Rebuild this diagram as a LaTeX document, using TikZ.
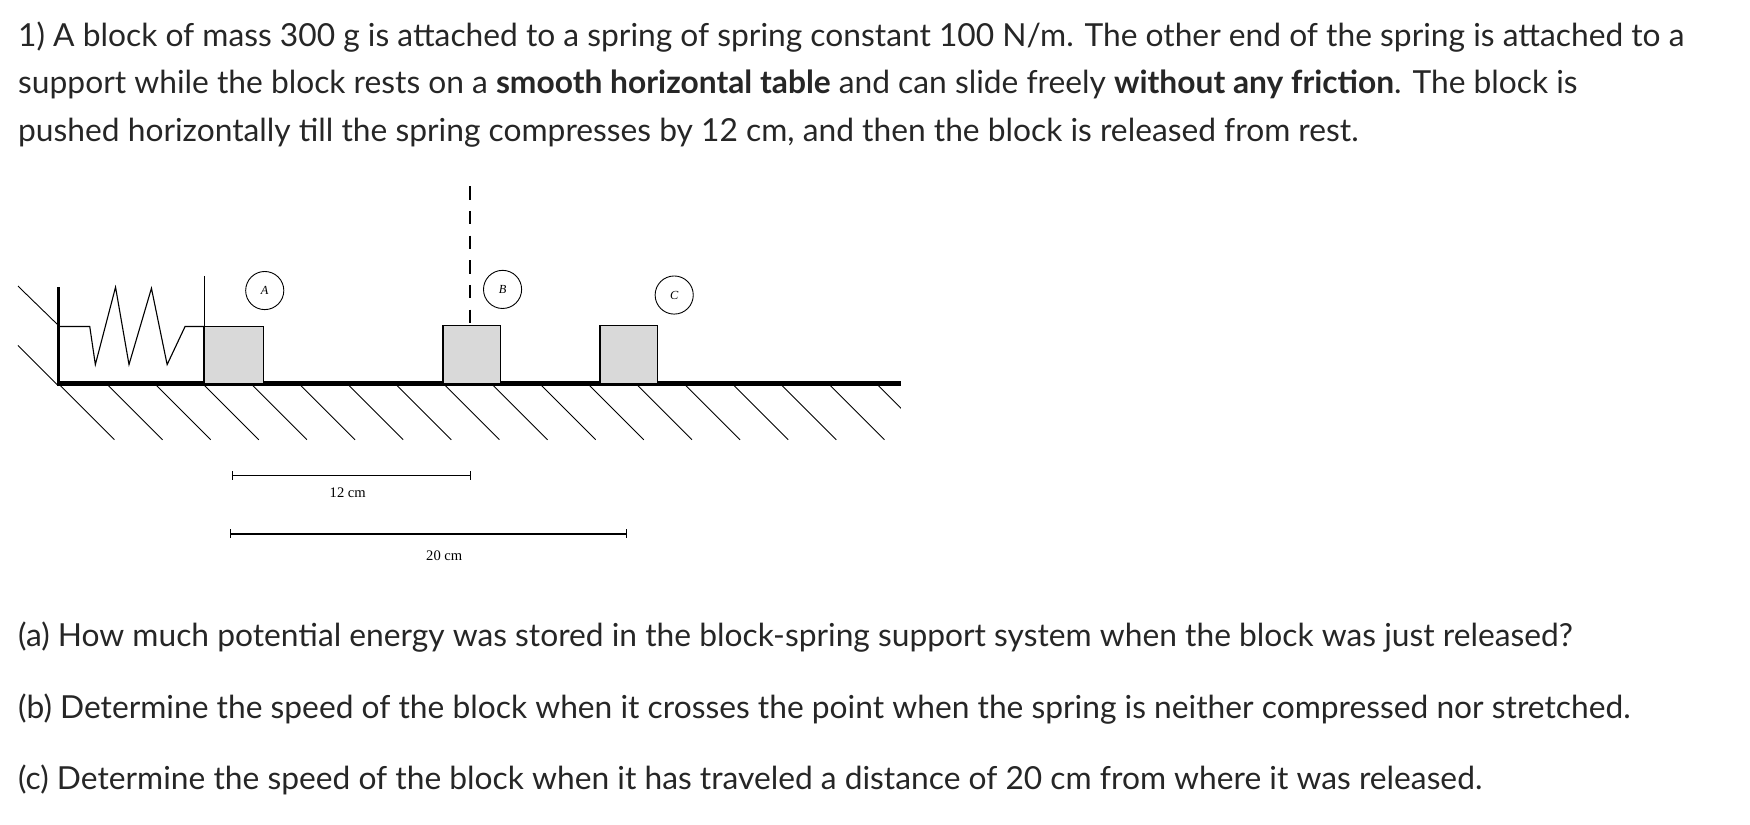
\documentclass[tikz,border=0pt]{standalone}
\usepackage{fontspec}
\setmainfont{Lato}
\newfontfamily\timesf{Liberation Serif}
\begin{document}
\begin{tikzpicture}[x=1pt,y=-1pt,
  txt/.style={anchor=west,inner sep=0pt,font=\fontsize{28.3}{32}\selectfont,text=black!85},
  blk/.style={draw,fill=black!15,line width=1.2pt},
  lbl/.style={draw,circle,line width=0.8pt,minimum size=34pt,inner sep=0pt,font=\timesf\itshape\fontsize{11}{12}\selectfont},
  dim/.style={line width=1pt,|-|},
  dimtxt/.style={font=\timesf\fontsize{13}{15}\selectfont,inner sep=0pt}]
\useasboundingbox (0,0) rectangle (1560,735);
\node[txt] (l1) at (16,33) {1) A block of mass 300 g is attached to a spring of spring constant 100 N/m. The other end of the spring is attached to a};
\node[txt] (l2) at (16,75) {support while the block rests on a \textbf{smooth horizontal table} and can slide freely \textbf{without any friction}. The block is};
\node[txt] (l3) at (16,118) {pushed horizontally till the spring compresses by 12 cm, and then the block is released from rest.};
% ground
\begin{scope}
\clip (0,342) rectangle (803,420);
\foreach \i in {0,...,17} \draw[line width=0.8pt] (52+\i*42.9,342) -- ++(50,50);
\end{scope}
\draw[line width=0.8pt] (16,255) -- (52,290);
\draw[line width=0.8pt] (16,308) -- (52,344);
\draw[line width=4pt] (52,342) -- (803,342);
\draw[line width=3pt] (52,256) -- (52,344);
\draw[line width=1pt] (182,246) -- (182,342);
\draw[line width=1pt] (52,291) -- (80,291) -- (85,325) -- (103,256) -- (115,325) -- (135,257) -- (149,325) -- (165,291) -- (182,291);
\node[blk,minimum width=53pt,minimum height=51pt,inner sep=0pt] (A) at (208.5,316.5) {};
\node[blk,minimum width=51pt,minimum height=52pt,inner sep=0pt] (B) at (420.5,316) {};
\node[blk,minimum width=51pt,minimum height=52pt,inner sep=0pt] (C) at (560.5,316) {};
\node[lbl] (cA) at (236,259) {A};
\node[lbl] (cB) at (448,258) {B};
\node[lbl] (cC) at (601,263) {C};
\coordinate (dt) at (419,166);
\draw[line width=1pt,dash pattern=on 12pt off 10pt] (dt) -- (B.north -| dt);
\coordinate (d1a) at (207,424); \coordinate (d1b) at (420,424);
\draw[dim] (d1a) -- (d1b);
\node[dimtxt] (t1) at (310,439) {12 cm};
\coordinate (d2a) at (205,476); \coordinate (d2b) at (559,476);
\draw[dim] (d2a) -- (d2b);
\node[dimtxt] (t2) at (396,495) {20 cm};
\node[txt] (qa) at (16,568) {(a) How much potential energy was stored in the block-spring support system when the block was just released?};
\node[txt] (qb) at (16,632) {(b) Determine the speed of the block when it crosses the point when the spring is neither compressed nor stretched.};
\node[txt] (qc) at (16,695) {(c) Determine the speed of the block when it has traveled a distance of 20 cm from where it was released.};
\end{tikzpicture}
\end{document}
